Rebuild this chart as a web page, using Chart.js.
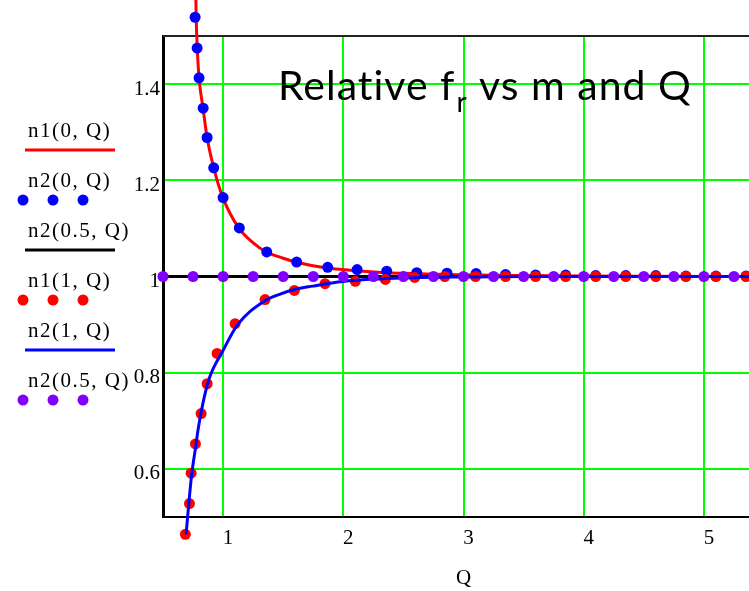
<!DOCTYPE html>
<html>
<head>
<meta charset="utf-8">
<script src="https://cdn.jsdelivr.net/npm/chart.js@4.4.0/dist/chart.umd.min.js"></script>
<style>
  html, body { margin: 0; padding: 0; background: #fff; overflow: hidden; }
  #wrap { width: 790px; height: 591px; }
</style>
</head>
<body>
<div id="wrap"><canvas id="frChart" width="790" height="591"></canvas></div>
<script>
// Tick positions
const xTicks = [1, 2, 3, 4, 5];
const yTicks = [0.6, 0.8, 1, 1.2, 1.4];

// n1(0,Q) - red curve
const n1_0_Q   = [0.768, 0.776, 0.785, 0.80, 0.833, 0.867, 0.922, 1.0, 1.13, 1.25, 1.36, 1.5, 1.62, 1.85, 2.1, 2.35, 2.6, 2.85, 3.1, 3.5, 4.0, 5.5];
const n1_0_val = [1.66, 1.54, 1.475, 1.413, 1.35, 1.289, 1.226, 1.163, 1.101, 1.07, 1.051, 1.038, 1.029, 1.018, 1.012, 1.008, 1.006, 1.004, 1.003, 1.002, 1.001, 1.0];

// n2(0,Q) - blue dots
const n2_0_Q   = [0.767, 0.784, 0.800, 0.834, 0.867, 0.922, 1.0, 1.135, 1.363, 1.612, 1.87, 2.115, 2.361, 2.611, 2.863, 3.105, 3.35, 3.6, 3.85, 4.1, 4.35, 4.6, 4.85, 5.1, 5.35];
const n2_0_val = [1.539, 1.475, 1.413, 1.350, 1.289, 1.226, 1.164, 1.101, 1.051, 1.030, 1.019, 1.0145, 1.011, 1.008, 1.007, 1.006, 1.004, 1.003, 1.003, 1.002, 1.002, 1.002, 1.001, 1.001, 1.001];

// n2(0.5,Q) - black line
const n2_05_Q   = [0.5, 5.5];
const n2_05_val = [1, 1];

// n1(1,Q) - red dots
const n1_1_Q   = [0.686, 0.720, 0.734, 0.770, 0.817, 0.867, 0.950, 1.100, 1.349, 1.593, 1.848, 2.100, 2.350, 2.594, 2.844, 3.10, 3.35, 3.60, 3.85, 4.10, 4.35, 4.60, 4.85, 5.10, 5.35];
const n1_1_val = [0.464, 0.528, 0.591, 0.652, 0.715, 0.777, 0.840, 0.902, 0.952, 0.971, 0.985, 0.990, 0.994, 0.998, 1.0, 1.0, 1.0, 1.0, 1.0, 1.0, 1.0, 1.0, 1.0, 1.0, 1.0];

// n2(1,Q) - blue curve
const n2_1_Q   = [0.692, 0.714, 0.739, 0.775, 0.79, 0.83, 0.886, 0.997, 1.121, 1.344, 1.469, 1.593, 1.745, 1.995, 2.30, 2.575, 3.0, 3.5, 5.5];
const n2_1_val = [0.464, 0.526, 0.589, 0.651, 0.679, 0.734, 0.789, 0.845, 0.900, 0.949, 0.963, 0.973, 0.980, 0.9896, 0.995, 0.9975, 0.999, 1.0, 1.0];

// n2(0.5,Q) - purple dots
const n2_05_dotQ   = [0.5, 0.75, 1.0, 1.25, 1.5, 1.75, 2.0, 2.25, 2.5, 2.75, 3.0, 3.25, 3.5, 3.75, 4.0, 4.25, 4.5, 4.75, 5.0, 5.25, 5.5];
const n2_05_dotVal = [1, 1, 1, 1, 1, 1, 1, 1, 1, 1, 1, 1, 1, 1, 1, 1, 1, 1, 1, 1, 1];

const toPoints = (xs, ys) => xs.map((x, i) => ({ x: x, y: ys[i] }));

const serif = '"Liberation Serif", "Times New Roman", serif';
const titleFont = 'Lato, "Open Sans", sans-serif';

// Chart.js skips points outside the plot area; the reference shows them, so draw those too
const outsideDots = {
    id: 'outsideDots',
    afterDatasetDraw(chart, args) {
        const ds = chart.data.datasets[args.index];
        if (ds.showLine) return;
        const area = chart.chartArea;
        const wide = { left: -1e4, top: -1e4, right: 1e4, bottom: 1e4 };
        args.meta.data.forEach(pt => {
            const inside = pt.x >= area.left && pt.x <= area.right && pt.y >= area.top && pt.y <= area.bottom;
            if (!inside) pt.draw(chart.ctx, wide);
        });
    }
};

// Left-hand legend: label text with a line or three dots below it
const sideLegend = {
    id: 'sideLegend',
    afterDraw(chart) {
        const ctx = chart.ctx;
        ctx.save();
        chart.data.datasets.forEach((ds, i) => {
            const ty = 131 + i * 50;
            ctx.font = '21px ' + serif;
            ctx.letterSpacing = '1.5px';
            ctx.fillStyle = '#000';
            ctx.textBaseline = 'middle';
            ctx.textAlign = 'left';
            ctx.fillText(ds.label, 28, ty);
            const sy = ty + 19;
            if (ds.showLine) {
                ctx.strokeStyle = ds.borderColor;
                ctx.lineWidth = 3;
                ctx.beginPath();
                ctx.moveTo(25, sy);
                ctx.lineTo(115, sy);
                ctx.stroke();
            } else {
                ctx.fillStyle = ds.backgroundColor;
                [23, 53, 83].forEach(dx => {
                    ctx.beginPath();
                    ctx.arc(dx, sy, 5.5, 0, Math.PI * 2);
                    ctx.fill();
                });
            }
        });
        ctx.restore();
    }
};

// Top frame line + title inside the plot
const frameAndTitle = {
    id: 'frameAndTitle',
    beforeDatasetsDraw(chart) {
        const { ctx, chartArea } = chart;
        ctx.save();
        ctx.strokeStyle = '#222';
        ctx.lineWidth = 2;
        ctx.beginPath();
        ctx.moveTo(chartArea.left, chartArea.top);
        ctx.lineTo(chartArea.right, chartArea.top);
        ctx.stroke();
        ctx.restore();
    },
    afterDatasetsDraw(chart) {
        const ctx = chart.ctx;
        ctx.save();
        ctx.fillStyle = '#000';
        ctx.textBaseline = 'alphabetic';
        ctx.textAlign = 'left';
        ctx.letterSpacing = '1px';
        let x = 278, y = 100;
        ctx.font = '41px ' + titleFont;
        ctx.fillText('Relative f', x, y);
        x += ctx.measureText('Relative f').width;
        ctx.font = '28px ' + titleFont;
        ctx.fillText('r', x + 1, y + 12);
        x += ctx.measureText('r').width + 1;
        ctx.font = '41px ' + titleFont;
        ctx.fillText(' vs m and Q', x, y);
        ctx.restore();
    }
};

document.addEventListener('DOMContentLoaded', () => {
    const ctx = document.getElementById('frChart').getContext('2d');

    new Chart(ctx, {
        type: 'scatter',
        data: {
            datasets: [
                {
                    label: 'n1(0, Q)',
                    data: toPoints(n1_0_Q, n1_0_val),
                    showLine: true,
                    borderColor: '#ff0000',
                    backgroundColor: '#ff0000',
                    borderWidth: 3,
                    pointRadius: 0,
                    cubicInterpolationMode: 'monotone',
                    clip: false,
                    order: 6
                },
                {
                    label: 'n2(0, Q)',
                    data: toPoints(n2_0_Q, n2_0_val),
                    showLine: false,
                    borderColor: '#0000ff',
                    backgroundColor: '#0000ff',
                    pointRadius: 5.5,
                    pointBorderWidth: 0,
                    clip: false,
                    order: 5
                },
                {
                    label: 'n2(0.5, Q)',
                    data: toPoints(n2_05_Q, n2_05_val),
                    showLine: true,
                    borderColor: '#000000',
                    backgroundColor: '#000000',
                    borderWidth: 3,
                    pointRadius: 0,
                    clip: false,
                    order: 4
                },
                {
                    label: 'n1(1, Q)',
                    data: toPoints(n1_1_Q, n1_1_val),
                    showLine: false,
                    borderColor: '#ff0000',
                    backgroundColor: '#ff0000',
                    pointRadius: 5.5,
                    pointBorderWidth: 0,
                    clip: false,
                    order: 3
                },
                {
                    label: 'n2(1, Q)',
                    data: toPoints(n2_1_Q, n2_1_val),
                    showLine: true,
                    borderColor: '#0000ff',
                    backgroundColor: '#0000ff',
                    borderWidth: 3,
                    pointRadius: 0,
                    cubicInterpolationMode: 'monotone',
                    clip: false,
                    order: 2
                },
                {
                    label: 'n2(0.5, Q)',
                    data: toPoints(n2_05_dotQ, n2_05_dotVal),
                    showLine: false,
                    borderColor: '#8000ff',
                    backgroundColor: '#8000ff',
                    pointRadius: 5.5,
                    pointBorderWidth: 0,
                    clip: false,
                    order: 1
                }
            ]
        },
        options: {
            responsive: false,
            animation: false,
            layout: {
                padding: { left: 0, top: 36, right: 26, bottom: 0 }
            },
            plugins: {
                legend: { display: false },
                tooltip: { enabled: false }
            },
            scales: {
                x: {
                    type: 'linear',
                    min: 0.5,
                    max: 5.5,
                    afterBuildTicks: (scale) => { scale.ticks = xTicks.map(v => ({ value: v })); },
                    afterFit: (scale) => { scale.height = 74; },
                    grid: { color: '#00ff00', lineWidth: 2, drawTicks: false },
                    border: { color: '#000', width: 2 },
                    ticks: {
                        font: { family: serif, size: 21 },
                        color: '#000',
                        padding: 9,
                        labelOffset: 5,
                        callback: (v) => String(v)
                    },
                    title: {
                        display: true,
                        text: 'Q',
                        font: { family: serif, size: 21 },
                        color: '#000',
                        padding: { top: 0, bottom: 0 }
                    }
                },
                y: {
                    type: 'linear',
                    min: 0.5,
                    max: 1.5,
                    afterBuildTicks: (scale) => { scale.ticks = yTicks.map(v => ({ value: v })); },
                    afterFit: (scale) => { scale.width = 163; },
                    grid: { color: '#00ff00', lineWidth: 2, drawTicks: false },
                    border: { color: '#000', width: 3 },
                    ticks: {
                        font: { family: serif, size: 21 },
                        color: '#000',
                        padding: 3,
                        labelOffset: 5,
                        callback: (v) => String(v)
                    }
                }
            }
        },
        plugins: [frameAndTitle, outsideDots, sideLegend]
    });
});
</script>
</body>
</html>
